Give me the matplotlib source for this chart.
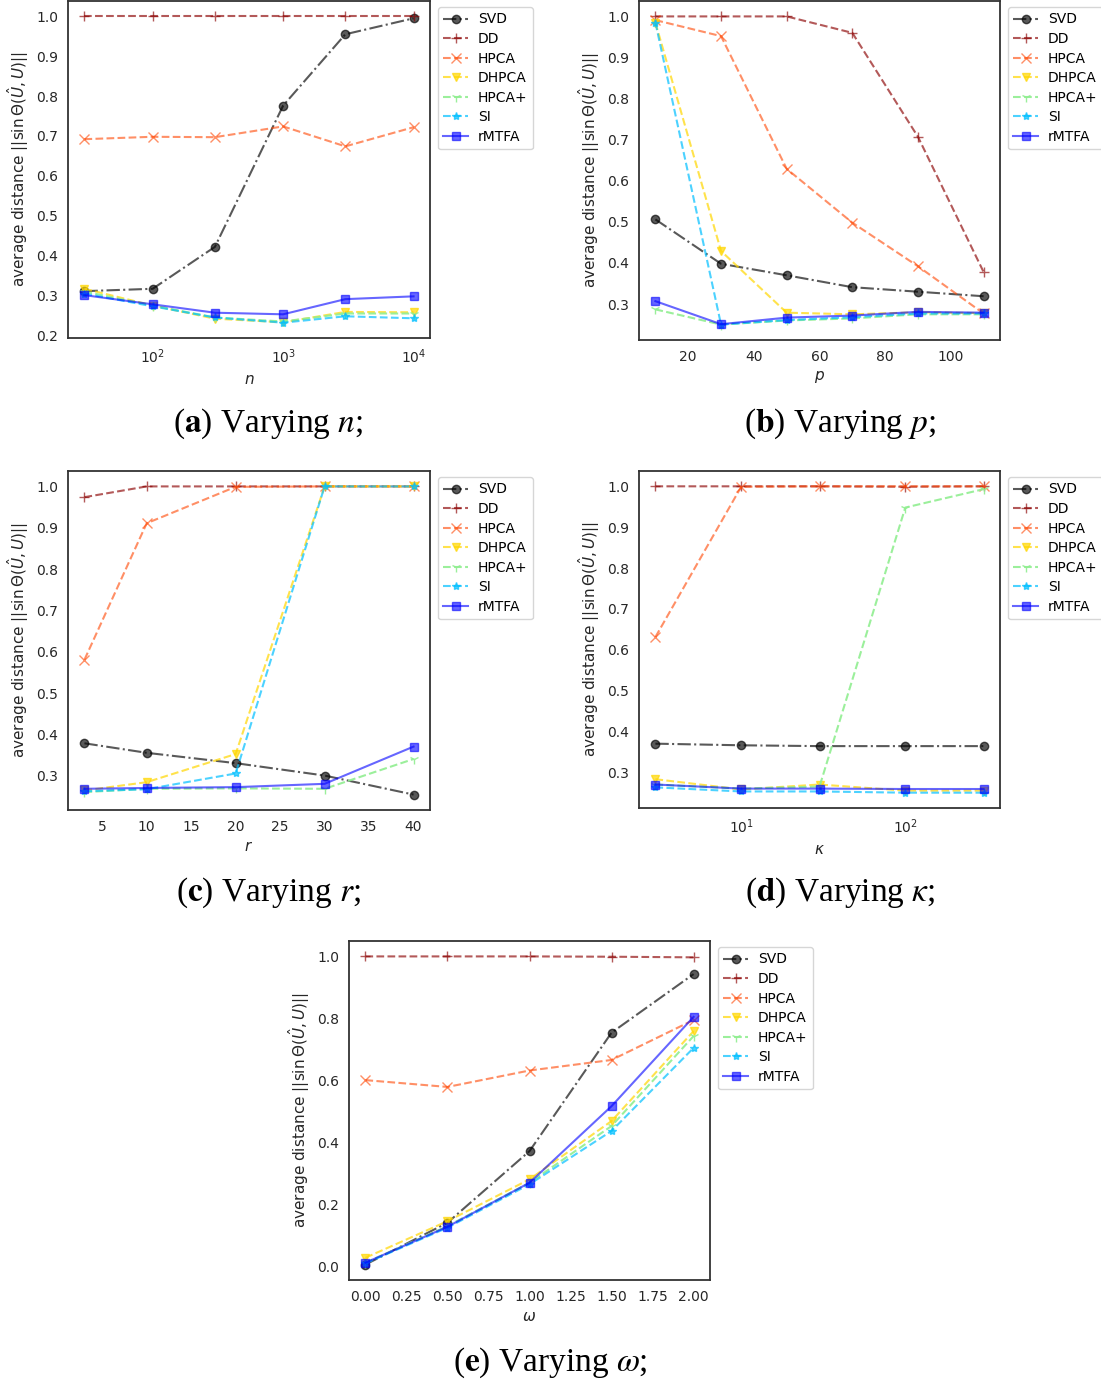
import numpy as np
import matplotlib.pyplot as plt

plt.rcParams['font.family'] = ['DejaVu Sans']
plt.rcParams['mathtext.fontset'] = 'dejavusans'

methods = ["SVD", "DD", "HPCA", "DHPCA", "HPCA+", "SI", "rMTFA"]

# (a) varying n
n_vals = [30, 100, 300, 1000, 3000, 10000]
a_svd = [0.311, 0.317, 0.422, 0.776, 0.955, 0.995]
a_dd = [1.0, 1.0, 1.0, 1.0, 1.0, 1.0]
a_hpca = [0.692, 0.698, 0.697, 0.724, 0.674, 0.722]
a_dhpca = [0.317, 0.275, 0.242, 0.233, 0.259, 0.258]
a_hpcap = [0.310, 0.275, 0.245, 0.235, 0.255, 0.255]
a_si = [0.305, 0.273, 0.245, 0.232, 0.248, 0.243]
a_rmtfa = [0.301, 0.278, 0.257, 0.253, 0.291, 0.298]

# (b) varying p
p_vals = [10, 30, 50, 70, 90, 110]
b_svd = [0.506, 0.398, 0.370, 0.341, 0.330, 0.319]
b_dd = [1.0, 1.0, 1.0, 0.960, 0.707, 0.378]
b_hpca = [0.991, 0.952, 0.629, 0.498, 0.392, 0.277]
b_dhpca = [0.985, 0.429, 0.279, 0.275, 0.280, 0.278]
b_hpcap = [0.287, 0.250, 0.260, 0.265, 0.275, 0.275]
b_si = [0.985, 0.250, 0.261, 0.268, 0.277, 0.277]
b_rmtfa = [0.307, 0.251, 0.267, 0.272, 0.281, 0.279]

# (c) varying r
r_vals = [3, 10, 20, 30, 40]
c_svd = [0.379, 0.356, 0.331, 0.301, 0.255]
c_dd = [0.974, 1.0, 1.0, 1.0, 1.0]
c_hpca = [0.581, 0.911, 0.999, 1.0, 1.0]
c_dhpca = [0.265, 0.285, 0.353, 1.0, 1.0]
c_hpcap = [0.261, 0.269, 0.270, 0.269, 0.341]
c_si = [0.263, 0.268, 0.306, 1.0, 1.0]
c_rmtfa = [0.269, 0.271, 0.273, 0.281, 0.371]
r_ticks = [5, 10, 15, 20, 25, 30, 35, 40]

# (d) varying kappa
k_vals = [3, 10, 30, 100, 300]
d_svd = [0.370, 0.366, 0.364, 0.364, 0.364]
d_dd = [1.0, 1.0, 1.0, 0.999, 1.0]
d_hpca = [0.631, 0.999, 1.0, 1.0, 1.0]
d_dhpca = [0.283, 0.258, 0.270, 0.255, 0.255]
d_hpcap = [0.270, 0.260, 0.265, 0.948, 0.993]
d_si = [0.263, 0.253, 0.253, 0.250, 0.250]
d_rmtfa = [0.270, 0.260, 0.260, 0.259, 0.259]

# (e) varying omega
w_vals = [0.0, 0.5, 1.0, 1.5, 2.0]
e_svd = [0.006, 0.141, 0.372, 0.754, 0.943]
e_dd = [1.0, 1.0, 1.0, 0.999, 0.997]
e_hpca = [0.601, 0.579, 0.632, 0.666, 0.795]
e_dhpca = [0.028, 0.146, 0.281, 0.469, 0.759]
e_hpcap = [0.012, 0.130, 0.270, 0.453, 0.743]
e_si = [0.010, 0.125, 0.265, 0.437, 0.705]
e_rmtfa = [0.012, 0.128, 0.270, 0.517, 0.805]
w_ticks = [0.0, 0.25, 0.5, 0.75, 1.0, 1.25, 1.5, 1.75, 2.0]

styles = [
    dict(color='black', marker='o', linestyle='-.', alpha=0.65, markersize=6),
    dict(color='darkred', marker='+', linestyle='--', alpha=0.65, markersize=7),
    dict(color='orangered', marker='x', linestyle='--', alpha=0.6, markersize=7),
    dict(color='gold', marker='v', linestyle='--', alpha=0.7, markersize=6),
    dict(color='lightgreen', marker='1', linestyle='--', alpha=0.9, markersize=7),
    dict(color='deepskyblue', marker='*', linestyle='--', alpha=0.7, markersize=6),
    dict(color='blue', marker='s', linestyle='-', alpha=0.6, markersize=6),
]

W, H = 1101, 1384
fig = plt.figure(figsize=(W / 100, H / 100), dpi=100)


def make_ax(left, top, right, bottom):
    return fig.add_axes([left / W, 1 - bottom / H, (right - left) / W, (bottom - top) / H])


panels = [
    (make_ax(68, 1, 430, 338), n_vals, [a_svd, a_dd, a_hpca, a_dhpca, a_hpcap, a_si, a_rmtfa], r'$n$', True),
    (make_ax(639, 1, 1000, 340), p_vals, [b_svd, b_dd, b_hpca, b_dhpca, b_hpcap, b_si, b_rmtfa], r'$p$', False),
    (make_ax(68, 471, 430, 810), r_vals, [c_svd, c_dd, c_hpca, c_dhpca, c_hpcap, c_si, c_rmtfa], r'$r$', False),
    (make_ax(639, 471, 1000, 808), k_vals, [d_svd, d_dd, d_hpca, d_dhpca, d_hpcap, d_si, d_rmtfa], r'$\kappa$', True),
    (make_ax(349, 941, 710, 1280), w_vals, [e_svd, e_dd, e_hpca, e_dhpca, e_hpcap, e_si, e_rmtfa], r'$\omega$', False),
]

for ax, xs, series, xl, logx in panels:
    for name, ys, st in zip(methods, series, styles):
        ax.plot(xs, ys, label=name, linewidth=1.5, **st)
    if logx:
        ax.set_xscale('log')
        ax.minorticks_off()
    ax.set_xlabel(xl, fontsize=11, color='.15')
    ax.set_ylabel(r'average distance $||\sin\Theta(\hat{U},U)||$', fontsize=11, color='.15')
    ax.tick_params(length=0, labelsize=10, colors='.15', pad=7)
    for sp in ax.spines.values():
        sp.set_color('.2')
        sp.set_linewidth(1.3)
    ax.legend(loc='upper left', bbox_to_anchor=(1.01, 0.995), fontsize=10,
              frameon=True, edgecolor='.8', handlelength=1.8, borderaxespad=0.3,
              labelspacing=0.4, handletextpad=0.7)

panels[2][0].set_xticks(r_ticks)
panels[4][0].set_xticks(w_ticks)
panels[4][0].xaxis.set_major_formatter(plt.FormatStrFormatter('%.2f'))

caps = [(268, 424, 'a', 'n'), (840, 424, 'b', 'p'), (268, 893, 'c', 'r'),
        (840, 893, 'd', r'\kappa'), (550, 1363, 'e', r'\omega')]
for cx, cy, letter, sym in caps:
    fig.text(cx / W, 1 - cy / H, '(' + r'$\mathbf{' + letter + '}$' + ') Varying ' + r'$' + sym + '$;',
             ha='center', va='center', fontsize=24, family='Liberation Serif',
             math_fontfamily='stix')

fig.savefig('out.png', dpi=100)
